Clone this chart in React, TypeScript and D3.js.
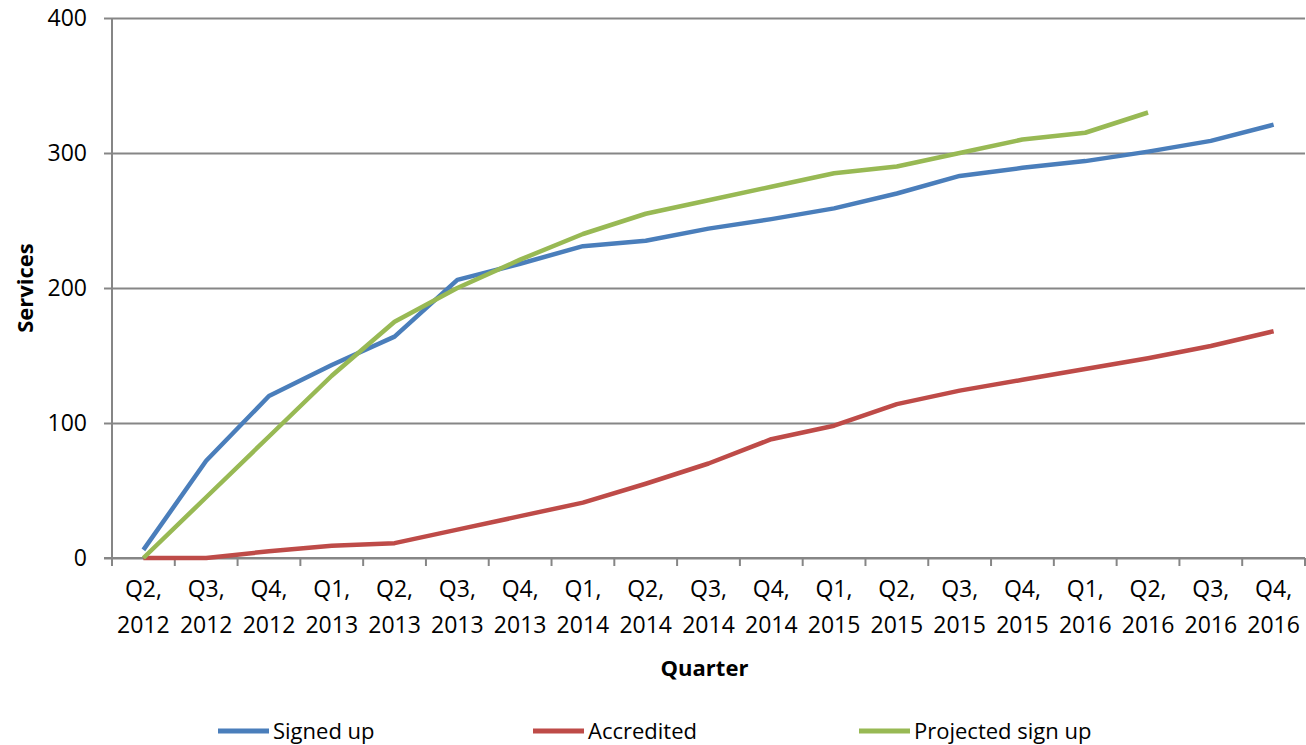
import React, { useRef, useEffect } from "react"
import * as d3 from "d3"

// Quarter labels (two lines each)
const quarters = ["Q2", "Q3", "Q4", "Q1", "Q2", "Q3", "Q4", "Q1", "Q2", "Q3", "Q4", "Q1", "Q2", "Q3", "Q4", "Q1", "Q2", "Q3", "Q4"]
const years = ["2012", "2012", "2012", "2013", "2013", "2013", "2013", "2014", "2014", "2014", "2014", "2015", "2015", "2015", "2015", "2016", "2016", "2016", "2016"]

const signedUp = [6, 72, 120, 143, 164, 206, 218, 231, 235, 244, 251, 259, 270, 283, 289, 294, 301, 309, 321]
const accredited = [0, 0, 5, 9, 11, 21, 31, 41, 55, 70, 88, 98, 114, 124, 132, 140, 148, 157, 168]
const projected = [0, 45, 90, 135, 175, 200, 221, 240, 255, 265, 275, 285, 290, 300, 310, 315, 330]

const yTicks = [0, 100, 200, 300, 400]

const seriesNames = ["Signed up", "Accredited", "Projected sign up"]
const seriesColors = ["#4A7EBB", "#BE4B48", "#98B954"]

const FONT = "'Open Sans', sans-serif"

const App: React.FC = () => {
  const svgRef = useRef<SVGSVGElement | null>(null)
  const width = 1306
  const height = 745

  useEffect(() => {
    const svg = d3.select(svgRef.current)
    svg.selectAll("*").remove()

    const margin = { top: 18, right: 1, bottom: 187, left: 112 }
    const innerWidth = width - margin.left - margin.right
    const innerHeight = height - margin.top - margin.bottom

    const keys = quarters.map((q, i) => `${q}, ${years[i]}`)

    const xScale = d3.scaleBand<string>()
      .domain(keys)
      .range([0, innerWidth])

    const yScale = d3.scaleLinear()
      .domain([0, 400])
      .range([innerHeight, 0])

    const g = svg.append("g")
      .attr("transform", `translate(${margin.left},${margin.top})`)

    // GRIDLINES + Y AXIS
    const yAxis = d3.axisLeft(yScale)
      .tickValues(yTicks)
      .tickSize(8)
      .tickPadding(17)

    g.append("g")
      .call(yAxis)
      .call(ax => ax.select(".domain").remove())
      .call(ax => ax.selectAll(".tick line").attr("stroke", "#868686").attr("stroke-width", 2))
      .call(ax => ax.selectAll(".tick line").clone()
        .attr("x1", 0)
        .attr("x2", innerWidth))
      .call(ax => ax.selectAll(".tick text")
        .attr("font-family", FONT)
        .attr("font-size", 23)
        .attr("fill", "#000"))

    // left axis line
    g.append("line")
      .attr("x1", 0).attr("x2", 0)
      .attr("y1", 0).attr("y2", innerHeight)
      .attr("stroke", "#868686").attr("stroke-width", 2)

    // X AXIS
    const xAxisG = g.append("g").attr("transform", `translate(0,${innerHeight})`)
    xAxisG.append("line")
      .attr("x1", -8).attr("x2", innerWidth)
      .attr("stroke", "#868686").attr("stroke-width", 2)

    const boundaries = keys.map(k => xScale(k) as number).concat([innerWidth])
    xAxisG.selectAll("line.tick")
      .data(boundaries)
      .enter()
      .append("line")
      .attr("class", "tick")
      .attr("x1", d => d).attr("x2", d => d)
      .attr("y1", 0).attr("y2", 8)
      .attr("stroke", "#868686").attr("stroke-width", 2)

    const labels = xAxisG.selectAll("text.lbl")
      .data(keys)
      .enter()
      .append("text")
      .attr("class", "lbl")
      .attr("text-anchor", "middle")
      .attr("font-family", FONT)
      .attr("font-size", 23)
      .attr("fill", "#000")
      .attr("transform", d => `translate(${(xScale(d) as number) + xScale.bandwidth() / 2},0)`)

    labels.append("tspan").attr("x", 0).attr("y", 39).text((_d, i) => `${quarters[i]},`)
    labels.append("tspan").attr("x", 0).attr("y", 75).text((_d, i) => years[i])

    // AXIS TITLES
    svg.append("text")
      .attr("x", margin.left + innerWidth / 2 - 4)
      .attr("y", 676)
      .attr("text-anchor", "middle")
      .attr("font-family", FONT)
      .attr("font-size", 22)
      .attr("font-weight", "bold")
      .text("Quarter")

    svg.append("text")
      .attr("transform", `translate(33,${margin.top + innerHeight / 2}) rotate(-90)`)
      .attr("text-anchor", "middle")
      .attr("font-family", FONT)
      .attr("font-size", 22)
      .attr("font-weight", "bold")
      .text("Services")

    // LINES
    const line = d3.line<number>()
      .x((_d, i) => (xScale(keys[i]) as number) + xScale.bandwidth() / 2)
      .y(d => yScale(d))

    const allSeries = [signedUp, accredited, projected]
    allSeries.forEach((s, i) => {
      g.append("path")
        .datum(s)
        .attr("d", line)
        .attr("fill", "none")
        .attr("stroke", seriesColors[i])
        .attr("stroke-width", 4.5)
        .attr("stroke-linejoin", "round")
    })

    // LEGEND
    const legendX = [218, 533, 859]
    const legendY = 731
    const legend = svg.append("g")
    seriesNames.forEach((name, i) => {
      legend.append("line")
        .attr("x1", legendX[i]).attr("x2", legendX[i] + 51)
        .attr("y1", legendY).attr("y2", legendY)
        .attr("stroke", seriesColors[i])
        .attr("stroke-width", 5)
      legend.append("text")
        .attr("x", legendX[i] + 55)
        .attr("y", legendY + 8)
        .attr("font-family", FONT)
        .attr("font-size", 22)
        .attr("fill", "#000")
        .text(name)
    })
  }, [])

  return (
    <svg
      ref={svgRef}
      width={width}
      height={height}
      style={{ position: "absolute", left: 0, top: 0, background: "#fff" }}
    ></svg>
  )
}

export default App
